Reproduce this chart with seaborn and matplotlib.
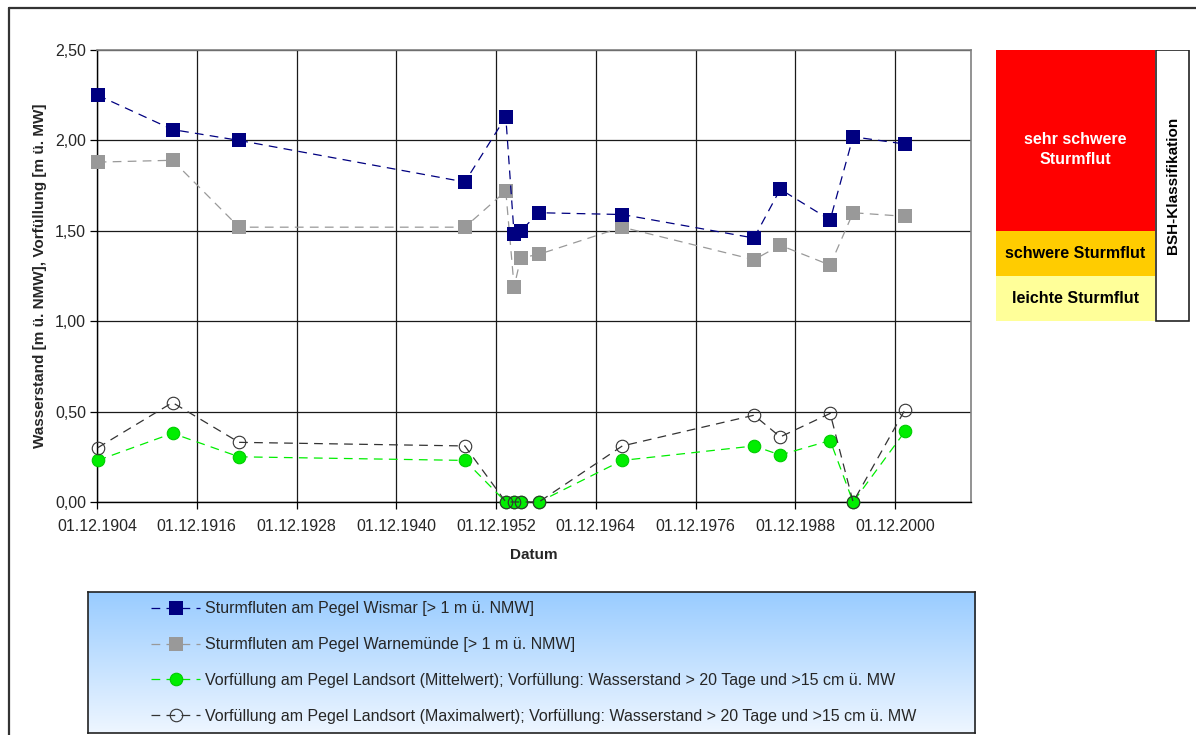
import numpy as np
import pandas as pd
import matplotlib
matplotlib.use("Agg")
import matplotlib.pyplot as plt
import matplotlib.dates as mdates
from matplotlib.lines import Line2D
from matplotlib.colors import LinearSegmentedColormap
from matplotlib import font_manager
import seaborn as sns

# --- data -------------------------------------------------------------
dates = ["1904-12-31", "1913-12-31", "1921-12-31", "1949-03-01",
         "1954-02-01", "1955-02-01", "1955-11-20", "1958-01-25",
         "1968-02-05", "1983-12-10", "1987-02-05", "1993-02-05",
         "1995-11-10", "2002-02-05"]
wismar = [2.25, 2.06, 2.00, 1.77, 2.13, 1.48, 1.50, 1.60,
          1.59, 1.46, 1.73, 1.56, 2.02, 1.98]
warnemuende = [1.88, 1.89, 1.52, 1.52, 1.72, 1.19, 1.35, 1.37,
               1.52, 1.34, 1.42, 1.31, 1.60, 1.58]
landsort_mittel = [0.23, 0.38, 0.25, 0.23, 0.00, 0.00, 0.00, 0.00,
                   0.23, 0.31, 0.26, 0.34, 0.00, 0.39]
landsort_max = [0.30, 0.55, 0.33, 0.31, 0.00, 0.00, 0.00, 0.00,
                0.31, 0.48, 0.36, 0.49, 0.00, 0.51]

series_labels = [
    "Sturmfluten am Pegel Wismar [> 1 m ü. NMW]",
    "Sturmfluten am Pegel Warnemünde [> 1 m ü. NMW]",
    "Vorfüllung am Pegel Landsort (Mittelwert); Vorfüllung: Wasserstand > 20 Tage und >15 cm ü. MW",
    "Vorfüllung am Pegel Landsort (Maximalwert); Vorfüllung: Wasserstand > 20 Tage und >15 cm ü. MW",
]
tick_years = [1904, 1916, 1928, 1940, 1952, 1964, 1976, 1988, 2000]
y_ticks = [0.0, 0.5, 1.0, 1.5, 2.0, 2.5]

# BSH classification bands (lower, upper, label, colour, text colour)
class_lower = [1.00, 1.25, 1.50]
class_upper = [1.25, 1.50, 2.50]
class_names = ["leichte Sturmflut", "schwere Sturmflut", "sehr schwere\nSturmflut"]
class_colors = ["#FFFF99", "#FFCC00", "#FF0000"]
class_text_colors = ["black", "black", "white"]

# --- style ------------------------------------------------------------
sns.set_theme(style="white")
plt.rcParams["font.family"] = ["Liberation Sans", "DejaVu Sans"]
available = {f.name for f in font_manager.fontManager.ttflist}
narrow = "Liberation Sans Narrow" if "Liberation Sans Narrow" in available else "Liberation Sans"

W, H = 1196, 735
fig = plt.figure(figsize=(W / 100, H / 100), dpi=100)
fig.patch.set_facecolor("white")


def fbox(x0, y0, x1, y1):
    """pixel box -> figure fraction [left, bottom, width, height]"""
    return [x0 / W, 1 - y1 / H, (x1 - x0) / W, (y1 - y0) / H]


ax = fig.add_axes(fbox(97, 50, 971, 502))

df = pd.DataFrame({
    "Datum": pd.to_datetime(dates),
    "wismar": wismar,
    "warnemuende": warnemuende,
    "mittel": landsort_mittel,
    "max": landsort_max,
})

dash = (7, 5)
sns.lineplot(data=df, x="Datum", y="wismar", ax=ax, color="#000080",
             marker="s", markersize=10.5, markeredgewidth=0, linewidth=0.9,
             label=series_labels[0], zorder=4)
sns.lineplot(data=df, x="Datum", y="warnemuende", ax=ax, color="#999999",
             marker="s", markersize=10.5, markeredgewidth=0, linewidth=0.9,
             label=series_labels[1], zorder=3)
sns.lineplot(data=df, x="Datum", y="mittel", ax=ax, color="#00EE00",
             marker="o", markersize=9, markerfacecolor="#00EE00",
             markeredgecolor="#00CC00", markeredgewidth=0.8, linewidth=0.9,
             label=series_labels[2], zorder=3)
sns.lineplot(data=df, x="Datum", y="max", ax=ax, color="#333333",
             marker="o", markersize=9, markerfacecolor="none",
             markeredgecolor="#333333", markeredgewidth=0.8, linewidth=0.9,
             label=series_labels[3], zorder=5)
for ln in ax.lines:
    ln.set_dashes(dash)
    ln.set_clip_on(False)

# axes ranges, ticks, grid
ax.set_xlim(pd.Timestamp("1904-12-01"), pd.Timestamp("2010-01-15"))
ax.set_ylim(0, 2.5)
ax.set_xticks([pd.Timestamp(f"{y}-12-01") for y in tick_years])
ax.xaxis.set_major_formatter(mdates.DateFormatter("%d.%m.%Y"))
ax.set_yticks(y_ticks)
ax.set_yticklabels([f"{v:.2f}".replace(".", ",") for v in y_ticks])
ax.grid(True, color="#1a1a1a", linewidth=0.9)
ax.set_axisbelow(True)
ax.tick_params(axis="both", which="major", direction="out", length=5,
               width=0.9, color="black", labelsize=11.5,
               bottom=True, left=True)
ax.tick_params(axis="x", pad=7)
ax.tick_params(axis="y", pad=3)
for side in ("left", "bottom"):
    ax.spines[side].set_color("black")
    ax.spines[side].set_linewidth(1.0)
for side in ("top", "right"):
    ax.spines[side].set_color("#808080")
    ax.spines[side].set_linewidth(1.2)
ax.set_xlabel("Datum", fontsize=11, fontweight="bold", labelpad=10)
ax.set_ylabel("Wasserstand [m ü. NMW], Vorfüllung [m ü. MW]", fontsize=11,
              fontweight="bold", labelpad=5.5)
ax.legend_.remove()
handles, labels = ax.get_legend_handles_labels()

# --- classification panel --------------------------------------------
axc = fig.add_axes(fbox(996, 50, 1190, 502))
axc.set_xlim(0, 194)
axc.set_ylim(0, 2.5)
axc.axis("off")
for lo, hi, name, col, tcol in zip(class_lower, class_upper, class_names,
                                   class_colors, class_text_colors):
    axc.bar(0, hi - lo, bottom=lo, width=159, align="edge", color=col,
            linewidth=0)
    axc.text(79.5, (lo + hi) / 2 - (0.05 if hi - lo > 0.5 else 0), name,
             ha="center", va="center", color=tcol, fontsize=11.5,
             fontweight="bold", linespacing=1.4)
axc.bar(160, 1.5, bottom=1.0, width=33, align="edge", color="white",
        edgecolor="#222222", linewidth=1.2)
axc.text(176.5, 1.75, "BSH-Klassifikation", rotation=90, ha="center",
         va="center", fontsize=11, fontweight="bold", color="black")

# --- legend box with vertical gradient -------------------------------
axl = fig.add_axes(fbox(88, 592, 975, 733))
grad = np.linspace(0, 1, 256).reshape(-1, 1)
cmap = LinearSegmentedColormap.from_list("lg", ["#99CCFF", "#EEF6FF"])
axl.imshow(grad, aspect="auto", cmap=cmap, extent=[0, 1, 0, 1])
axl.set_xticks([])
axl.set_yticks([])
for sp in axl.spines.values():
    sp.set_color("#222222")
    sp.set_linewidth(1.2)
    sp.set_visible(True)

leg = fig.legend(handles, labels, loc="upper left",
                 bbox_to_anchor=(137 / W, 1 - 587 / H), frameon=False,
                 prop={"family": narrow, "size": 11.5},
                 handlelength=3.05, handletextpad=0.3, labelspacing=1.3)
leg.set_zorder(10)

# outer frame of the figure
fig.add_artist(Line2D([8.5 / W, 8.5 / W], [1 - 8 / H, -0.05],
                      transform=fig.transFigure, color="#333333", lw=1.6))
fig.add_artist(Line2D([8.5 / W, 1.05], [1 - 8 / H, 1 - 8 / H],
                      transform=fig.transFigure, color="#333333", lw=1.6))

fig.savefig("out.png", dpi=100)
